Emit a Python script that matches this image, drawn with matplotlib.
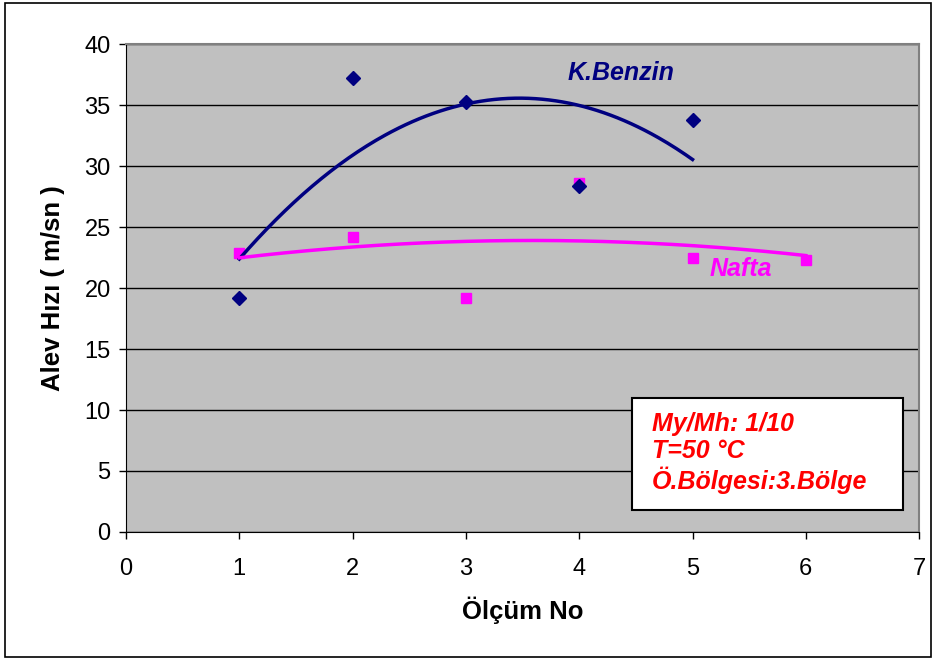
import numpy as np
import matplotlib
matplotlib.use("Agg")
import matplotlib.pyplot as plt
from matplotlib.patches import Rectangle

plt.rcParams["font.family"] = ["Liberation Sans", "DejaVu Sans"]

# veriler
olcum_benzin = [1, 2, 3, 4, 5]
hiz_benzin = [19.2, 37.2, 35.3, 28.4, 33.8]
olcum_nafta = [1, 2, 3, 4, 5, 6]
hiz_nafta = [22.9, 24.2, 19.2, 28.6, 22.5, 22.3]

NAVY = "#000080"
MAGENTA = "#FF00FF"
GRAY = "#C0C0C0"

fig = plt.figure(figsize=(9.36, 6.6), dpi=100)
ax = fig.add_axes([0.1346, 0.194, 0.8474, 0.739])
ax.set_facecolor(GRAY)

# 2. derece polinom trend çizgileri (Excel gibi)
for xs, ys, c in [(olcum_benzin, hiz_benzin, NAVY), (olcum_nafta, hiz_nafta, MAGENTA)]:
    coef = np.polyfit(xs, ys, 2)
    xx = np.linspace(min(xs), max(xs), 200)
    ax.plot(xx, np.polyval(coef, xx), color=c, lw=2.5, zorder=3)

ax.plot(olcum_benzin, hiz_benzin, "D", color=NAVY, ms=7.5, zorder=4)
ax.plot(olcum_nafta, hiz_nafta, "s", color=MAGENTA, ms=7.5, zorder=2)

ax.set_xlim(0, 7)
ax.set_ylim(0, 40)
ax.set_xticks(range(0, 8))
ax.set_yticks(range(0, 41, 5))
ax.yaxis.grid(True, color="black", lw=1)
ax.set_axisbelow(True)
ax.tick_params(direction="out", length=5, width=1, labelsize=17, pad=6)
ax.tick_params(axis="x", pad=14)

for s in ["top", "right"]:
    ax.spines[s].set_color("#808080")
    ax.spines[s].set_linewidth(1.5)
for s in ["left", "bottom"]:
    ax.spines[s].set_color("black")

ax.set_xlabel("Ölçüm No", fontsize=18.5, fontweight="bold", labelpad=12)
ax.set_ylabel("Alev Hızı ( m/sn )", fontsize=18.5, fontweight="bold", labelpad=14)

ax.text(4.37, 37.6, "K.Benzin", color=NAVY, fontsize=18, fontweight="bold",
        style="italic", ha="center", va="center")
ax.text(5.43, 21.6, "Nafta", color=MAGENTA, fontsize=18, fontweight="bold",
        style="italic", ha="center", va="center")

# bilgi kutusu
ax.add_patch(Rectangle((0.638, 0.045), 0.342, 0.23, transform=ax.transAxes,
                       facecolor="white", edgecolor="black", lw=1.5, zorder=5))
ax.text(0.663, 0.162,
        "My/Mh: 1/10\nT=50 °C\nÖ.Bölgesi:3.Bölge",
        transform=ax.transAxes, color="red", fontsize=18, fontweight="bold",
        style="italic", ha="left", va="center", linespacing=1.15, zorder=6)

# dış çerçeve
fig.patches.append(Rectangle((0.005, 0.005), 0.99, 0.99, transform=fig.transFigure,
                             fill=False, edgecolor="black", lw=1.2))

fig.savefig("out.png", dpi=100)
